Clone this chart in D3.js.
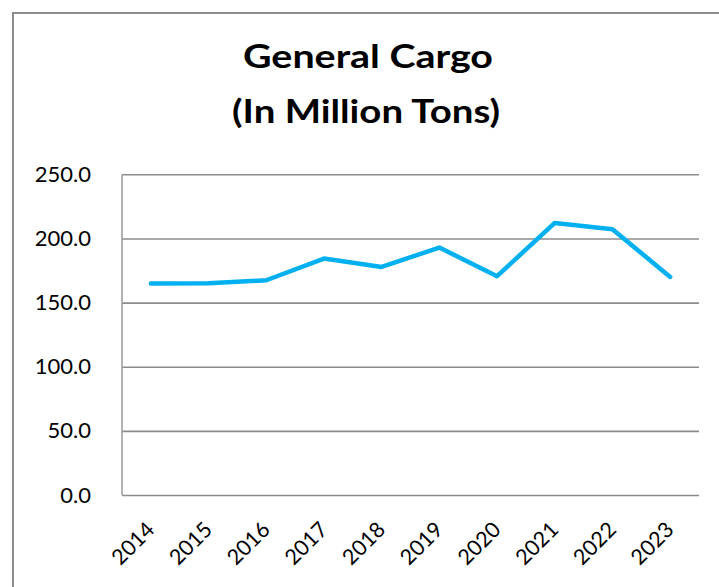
<!DOCTYPE html>
<html>
<head>
<meta charset="utf-8">
<script src="https://cdn.jsdelivr.net/npm/d3@7"></script>
<style>
  html, body { margin: 0; padding: 0; background: #fff; }
  svg { display: block; }
</style>
</head>
<body>
<svg id="chart" width="719" height="587"></svg>
<script>
const years = ["2014","2015","2016","2017","2018","2019","2020","2021","2022","2023"];
const cargo = [164.9, 165.1, 167.4, 184.3, 177.8, 192.9, 170.6, 212.1, 207.2, 170.0];
const yTicks = [0, 50, 100, 150, 200, 250];
const titleLines = ["General Cargo", "(In Million Tons)"];

const svg = d3.select("#chart");
const W = 719, H = 587;
const plot = { left: 122, right: 699, top: 174.3, bottom: 495 };
const font = "Lato, 'Open Sans', sans-serif";

// chart border
svg.append("rect")
  .attr("x", 13).attr("y", 13)
  .attr("width", W).attr("height", H)
  .attr("fill", "#fff")
  .attr("stroke", "#8c8c8c").attr("stroke-width", 2);

// title
const titleLayout = [{ cx: 368, y: 68, len: 250 }, { cx: 366, y: 123, len: 268 }];
svg.append("g").selectAll("text")
  .data(titleLines)
  .join("text")
  .attr("x", (d, i) => titleLayout[i].cx)
  .attr("y", (d, i) => titleLayout[i].y)
  .attr("text-anchor", "middle")
  .attr("font-family", font)
  .attr("font-weight", "bold")
  .attr("font-size", 33)
  .attr("textLength", (d, i) => titleLayout[i].len)
  .attr("lengthAdjust", "spacingAndGlyphs")
  .attr("fill", "#000")
  .text(d => d);

const x = d3.scaleBand().domain(years).range([plot.left, plot.right]);
const y = d3.scaleLinear().domain([0, 250]).range([plot.bottom, plot.top]);

// gridlines
svg.append("g")
  .attr("transform", `translate(${plot.left},0)`)
  .call(d3.axisLeft(y).tickValues(yTicks).tickSize(-(plot.right - plot.left)).tickFormat(""))
  .call(g => g.select(".domain").remove())
  .call(g => g.selectAll(".tick line").attr("stroke", "#8c8c8c").attr("stroke-width", 1.6));

// left axis line
svg.append("line")
  .attr("x1", plot.left).attr("x2", plot.left)
  .attr("y1", plot.top).attr("y2", plot.bottom)
  .attr("stroke", "#a0a0a0").attr("stroke-width", 1.6);

// y labels
svg.append("g")
  .attr("transform", `translate(${plot.left},0)`)
  .call(d3.axisLeft(y).tickValues(yTicks).tickSize(0).tickPadding(31).tickFormat(d3.format(".1f")))
  .call(g => g.select(".domain").remove())
  .call(g => g.selectAll("text")
    .attr("font-family", font)
    .attr("font-size", 22)
    .attr("fill", "#000"));

// x labels
svg.append("g")
  .attr("transform", `translate(0,${plot.bottom})`)
  .call(d3.axisBottom(x).tickSize(0).tickFormat(d => d))
  .call(g => g.select(".domain").remove())
  .call(g => g.selectAll("text")
    .attr("font-family", font)
    .attr("font-size", 21.5)
    .attr("fill", "#000")
    .attr("text-anchor", "end")
    .attr("dy", 0)
    .attr("y", 0)
    .attr("transform", "translate(5,36) rotate(-45)"));

// line
const line = d3.line()
  .x((d, i) => x(years[i]) + x.bandwidth() / 2)
  .y(d => y(d));

svg.append("path")
  .datum(cargo)
  .attr("d", line)
  .attr("fill", "none")
  .attr("stroke", "#00B0F0")
  .attr("stroke-width", 4.5)
  .attr("stroke-linejoin", "round")
  .attr("stroke-linecap", "round");
</script>
</body>
</html>
